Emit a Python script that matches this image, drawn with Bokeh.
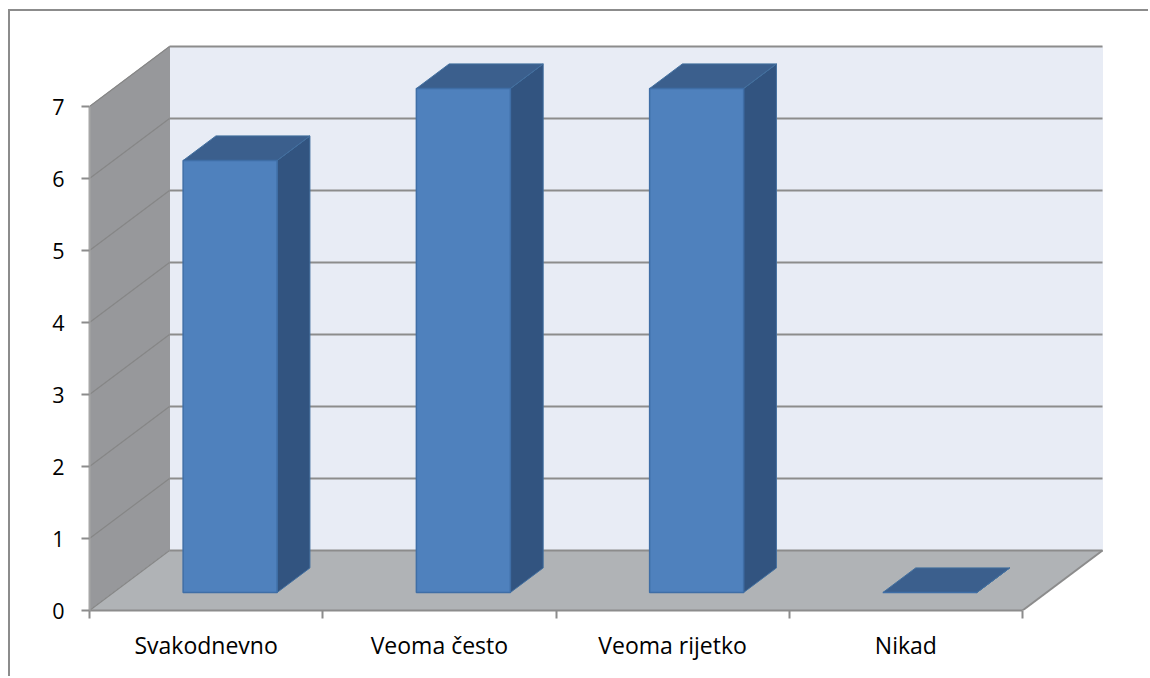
from bokeh.plotting import figure
from bokeh.models import FixedTicker
from bokeh.embed import file_html
from bokeh.resources import INLINE

categories = ["Svakodnevno", "Veoma često", "Veoma rijetko", "Nikad"]
values = [6, 7, 7, 0]
y_ticks = [0, 1, 2, 3, 4, 5, 6, 7]

# 3D projection of the chart, in axis units
DX = 80 / 233.25
DY = 60 / 72
Y_MAX = y_ticks[-1]
N = len(categories)
D0, D1 = 0.3, 0.71
BAR_W = 0.403


def pr(x, y, d):
    return x + d * DX, y + d * DY


def poly(pts):
    return [p_[0] for p_ in pts], [p_[1] for p_ in pts]


GRID = "#8c8c8c"
p = figure(width=1140, height=667, x_range=(0, 1061 / 233.25), y_range=(0, 599 / 72),
           toolbar_location=None, output_backend="svg",
           min_border_left=79, min_border_right=0, min_border_top=0, min_border_bottom=68,
           styles={"margin-left": "8px", "margin-top": "9px",
                   "border-left": f"2px solid {GRID}", "border-top": f"2px solid {GRID}"})
p.outline_line_color = None
p.grid.visible = False
p.background_fill_color = "white"
p.border_fill_color = "white"


def patch(pts, fill, line=None, lw=1):
    xs, ys = poly(pts)
    p.patch(xs, ys, fill_color=fill, line_color=line if line else fill, line_width=lw)


# walls and floor
patch([pr(0, 0, 1), pr(N, 0, 1), pr(N, Y_MAX, 1), pr(0, Y_MAX, 1)], "#e8ecf5")
patch([pr(0, 0, 0), pr(0, 0, 1), pr(0, Y_MAX, 1), pr(0, Y_MAX, 0)], "#97989b")
patch([pr(0, 0, 0), pr(N, 0, 0), pr(N, 0, 1), pr(0, 0, 1)], "#b0b3b6")

# gridlines: side wall, then back wall
for t in y_ticks:
    a, b = pr(0, t, 0), pr(0, t, 1)
    p.line([a[0], b[0]], [a[1], b[1]], line_color="#868686", line_width=1.2)
    c = pr(N, t, 1)
    p.line([b[0], c[0]], [b[1], c[1]], line_color=GRID, line_width=2)
# floor's right edge
a, b = pr(N, 0, 0), pr(N, 0, 1)
p.line([a[0], b[0]], [a[1], b[1]], line_color=GRID, line_width=2)

# bars
FRONT, TOP, SIDE, EDGE = "#4f81bd", "#3b5f8d", "#325480", "#43709f"
for i, v in enumerate(values):
    x0 = i + (1 - BAR_W) / 2
    x1 = x0 + BAR_W
    patch([pr(x1, 0, D0), pr(x1, 0, D1), pr(x1, v, D1), pr(x1, v, D0)], SIDE, EDGE, 1)
    patch([pr(x0, v, D0), pr(x1, v, D0), pr(x1, v, D1), pr(x0, v, D1)], TOP, EDGE, 1)
    patch([pr(x0, 0, D0), pr(x1, 0, D0), pr(x1, v, D0), pr(x0, v, D0)], FRONT, "#3f6ea6", 1.5)

# axes
ya = p.yaxis[0]
ya.ticker = FixedTicker(ticks=y_ticks)
ya.bounds = (0, Y_MAX)
ya.major_label_overrides = {t: str(t) for t in y_ticks}
ya.major_label_text_font = "Open Sans"
ya.major_label_text_font_size = "21.5px"
ya.major_label_text_color = "#000000"
ya.major_label_standoff = 17
ya.major_tick_out = 8
ya.major_tick_in = 0
ya.minor_tick_out = 0
ya.minor_tick_in = 0
ya.major_tick_line_color = GRID
ya.major_tick_line_width = 2
ya.axis_line_color = "#a6a6a6"
ya.axis_line_width = 2

xa = p.xaxis[0]
xa.ticker = FixedTicker(ticks=[i + 0.5 for i in range(N)], minor_ticks=list(range(N + 1)))
xa.bounds = (0, N)
xa.major_label_overrides = {i + 0.5: c for i, c in enumerate(categories)}
xa.major_label_text_font = "Open Sans"
xa.major_label_text_font_size = "23px"
xa.major_label_text_color = "#000000"
xa.major_label_standoff = 10
xa.major_tick_out = 0
xa.major_tick_in = 0
xa.minor_tick_out = 8
xa.minor_tick_in = 0
xa.minor_tick_line_color = GRID
xa.minor_tick_line_width = 2
xa.axis_line_color = GRID
xa.axis_line_width = 2

open("out.html", "w").write(file_html(p, INLINE))
